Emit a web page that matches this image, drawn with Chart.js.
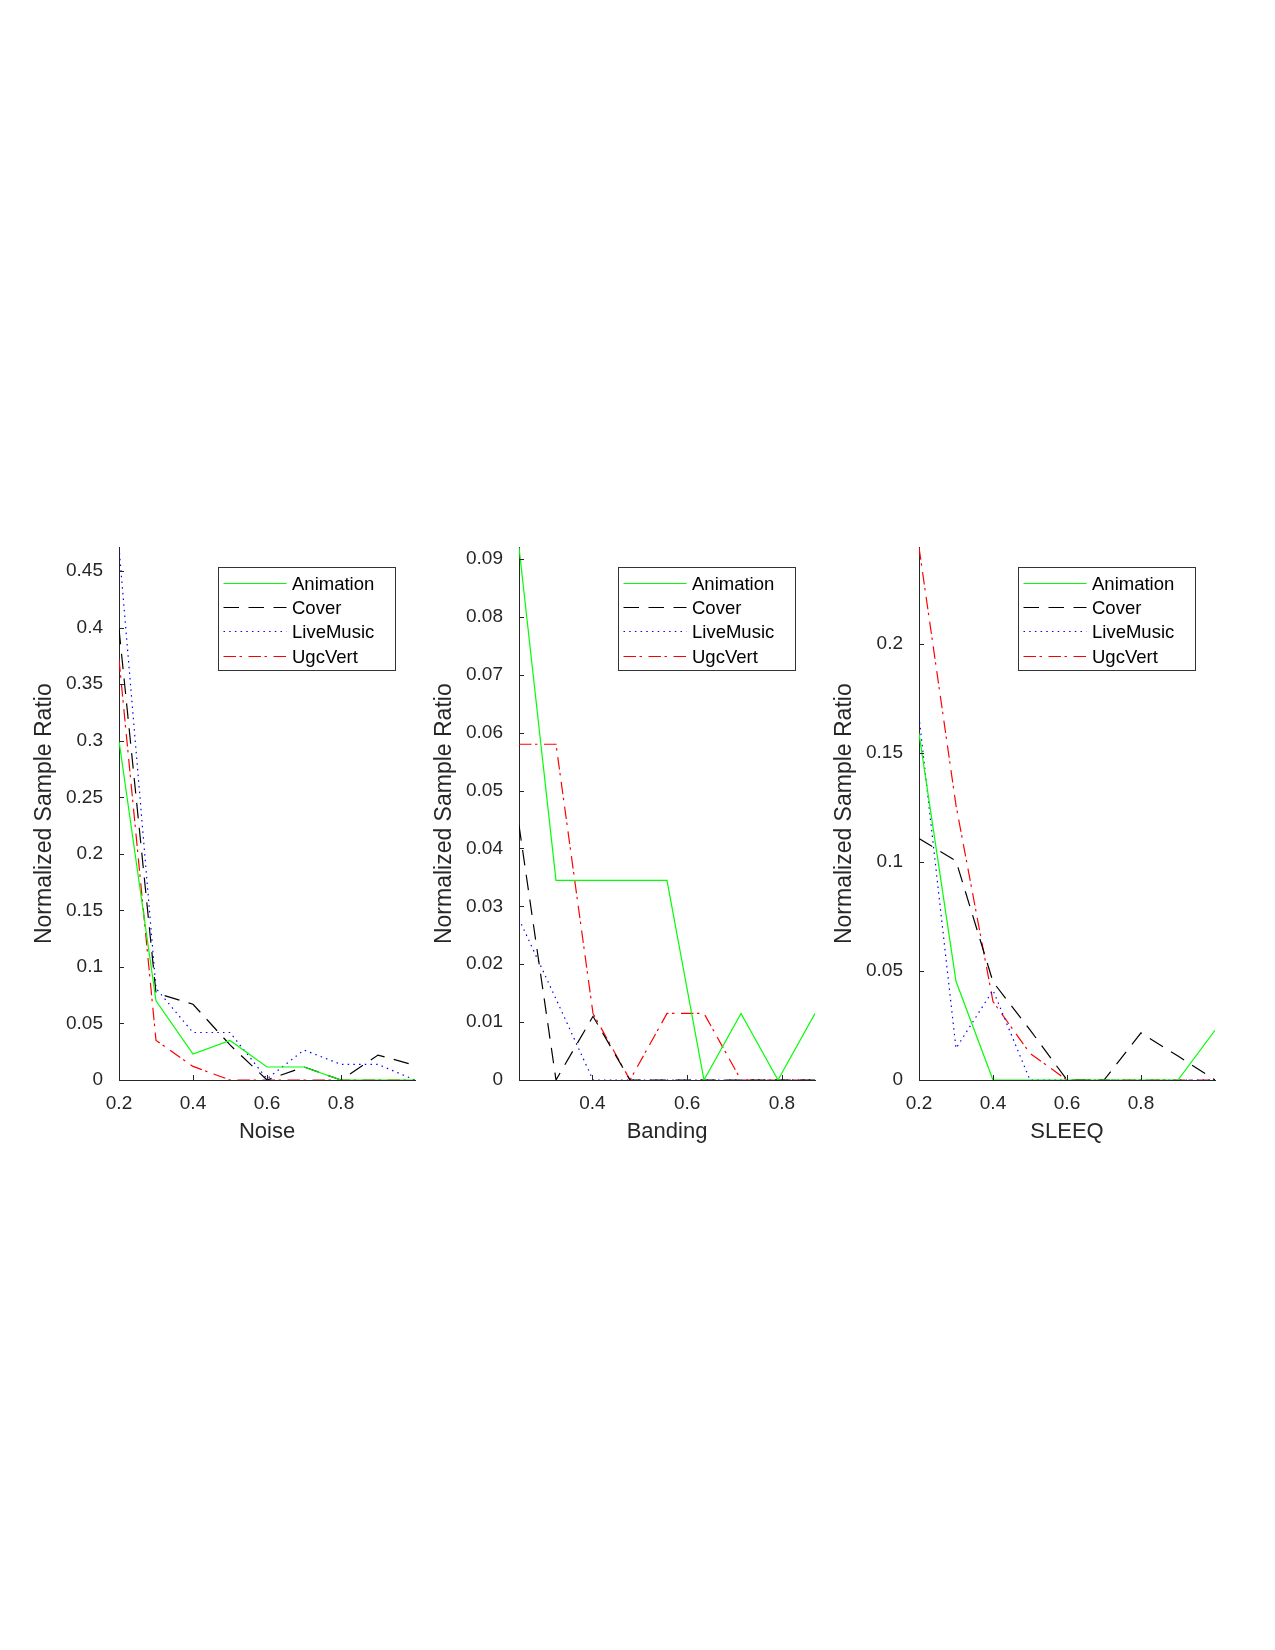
<!DOCTYPE html>
<html>
<head>
<meta charset="utf-8">
<script src="https://cdn.jsdelivr.net/npm/chart.js@4/dist/chart.umd.min.js"></script>
<style>
  body { margin: 0; background: #fff; width: 1275px; height: 1650px; position: relative; }
  canvas { position: absolute; top: 520px; }
</style>
</head>
<body>
<canvas id="noiseChart" width="410" height="630" style="left:19px"></canvas>
<canvas id="bandingChart" width="410" height="630" style="left:419px"></canvas>
<canvas id="sleeqChart" width="410" height="630" style="left:819px"></canvas>
<script>
const seriesNames = ['Animation', 'Cover', 'LiveMusic', 'UgcVert'];

const noiseX = [0.2, 0.3, 0.4, 0.5, 0.6, 0.7, 0.8, 0.9, 1.0];
const noiseAnimation = [0.300, 0.070, 0.023, 0.035, 0.0115, 0.0115, 0, 0, 0];
const noiseCover = [0.399, 0.077, 0.067, 0.031, 0, 0.0115, 0, 0.022, 0.013];
const noiseLiveMusic = [0.471, 0.081, 0.042, 0.042, 0.001, 0.0265, 0.0138, 0.0138, 0];
const noiseUgcVert = [0.372, 0.035, 0.012, 0, 0, 0, 0, 0, 0];
const noiseXTicks = [0.2, 0.4, 0.6, 0.8];
const noiseYTicks = [0, 0.05, 0.1, 0.15, 0.2, 0.25, 0.3, 0.35, 0.4, 0.45];

const bandingX = [0.2451, 0.3232, 0.4013, 0.4794, 0.5575, 0.6356, 0.7137, 0.7918, 0.8699];
const bandingAnimation = [0.092, 0.0345, 0.0345, 0.0345, 0.0345, 0, 0.0115, 0, 0.0115];
const bandingCover = [0.044, 0, 0.011, 0, 0, 0, 0, 0, 0];
const bandingLiveMusic = [0.0278, 0.014, 0, 0, 0, 0, 0, 0, 0];
const bandingUgcVert = [0.058, 0.058, 0.0115, 0, 0.0115, 0.0115, 0, 0, 0];
const bandingXTicks = [0.4, 0.6, 0.8];
const bandingYTicks = [0, 0.01, 0.02, 0.03, 0.04, 0.05, 0.06, 0.07, 0.08, 0.09];

const sleeqX = [0.2, 0.3, 0.4, 0.5, 0.6, 0.7, 0.8, 0.9, 1.0];
const sleeqAnimation = [0.159, 0.0453, 0, 0, 0, 0, 0, 0, 0.0228];
const sleeqCover = [0.1108, 0.1005, 0.045, 0.023, 0, 0, 0.0216, 0.011, 0];
const sleeqLiveMusic = [0.1667, 0.0145, 0.0412, 0, 0, 0, 0, 0, 0];
const sleeqUgcVert = [0.2443, 0.126, 0.036, 0.0122, 0, 0, 0, 0, 0];
const sleeqXTicks = [0.2, 0.4, 0.6, 0.8];
const sleeqYTicks = [0, 0.05, 0.1, 0.15, 0.2];

const seriesStyles = [
    { color: '#00ff00', dash: [] },
    { color: '#000000', dash: [15.5, 9.5] },
    { color: '#0000ff', dash: [1.5, 4.2] },
    { color: '#ff0000', dash: [12.5, 3.5, 2.5, 6.5] }
];

const FONT = "'Liberation Sans', Arial, Helvetica, sans-serif";
const AXIS_COLOR = '#262626';

// small tick marks drawn inside the axes, matlab style
const innerTicks = {
    id: 'innerTicks',
    afterDraw(chart) {
        const ctx = chart.ctx;
        const { x, y } = chart.scales;
        const len = 5;
        ctx.save();
        ctx.strokeStyle = AXIS_COLOR;
        ctx.lineWidth = 1;
        ctx.beginPath();
        x.ticks.forEach(t => {
            const px = Math.round(x.getPixelForValue(t.value)) + 0.5;
            ctx.moveTo(px, y.bottom);
            ctx.lineTo(px, y.bottom - len);
        });
        y.ticks.forEach(t => {
            const py = Math.round(y.getPixelForValue(t.value)) + 0.5;
            ctx.moveTo(x.left, py);
            ctx.lineTo(x.left + len, py);
        });
        ctx.stroke();
        ctx.restore();
    }
};

// boxed legend in the upper right of the plot area
const boxLegend = {
    id: 'boxLegend',
    afterDraw(chart) {
        const ctx = chart.ctx;
        const area = chart.chartArea;
        const w = 177, h = 103;
        const x0 = area.right - 20.5 - w;
        const y0 = area.top + 20;
        ctx.save();
        ctx.fillStyle = '#fff';
        ctx.fillRect(x0, y0, w, h);
        ctx.strokeStyle = '#333';
        ctx.lineWidth = 1;
        ctx.strokeRect(Math.round(x0) + 0.5, Math.round(y0) + 0.5, w, h);
        ctx.font = '18.5px ' + FONT;
        ctx.textBaseline = 'middle';
        chart.data.datasets.forEach((ds, i) => {
            const cy = Math.round(y0 + 15.3 + i * 24.3) + 0.5;
            ctx.strokeStyle = ds.borderColor;
            ctx.lineWidth = ds.borderWidth;
            ctx.setLineDash(ds.borderDash);
            ctx.beginPath();
            ctx.moveTo(x0 + 6, cy);
            ctx.lineTo(x0 + 69, cy);
            ctx.stroke();
            ctx.setLineDash([]);
            ctx.fillStyle = '#000';
            ctx.fillText(ds.label, x0 + 74.5, cy + 1);
        });
        ctx.restore();
    }
};

function fmt(v) {
    return String(parseFloat(Number(v).toFixed(4)));
}

function createPanel(canvasId, xTitle, xs, seriesValues, xTicks, yTicks, xMin, xMax, yMax) {
    const ctx = document.getElementById(canvasId).getContext('2d');
    const datasets = seriesValues.map((vals, i) => ({
        label: seriesNames[i],
        data: vals.map((v, j) => ({ x: xs[j], y: v })),
        borderColor: seriesStyles[i].color,
        borderDash: seriesStyles[i].dash,
        borderWidth: 1.2,
        pointRadius: 0,
        tension: 0,
        fill: false
    }));

    return new Chart(ctx, {
        type: 'line',
        data: { datasets: datasets },
        options: {
            responsive: false,
            animation: false,
            layout: { padding: { top: 26, right: 14, bottom: 0, left: 0 } },
            plugins: { legend: { display: false }, tooltip: { enabled: false } },
            scales: {
                x: {
                    type: 'linear',
                    min: xMin,
                    max: xMax,
                    afterBuildTicks: axis => { axis.ticks = xTicks.map(v => ({ value: v })); },
                    afterFit: axis => { axis.height = 70; },
                    grid: { display: true, drawOnChartArea: false, drawTicks: false },
                    border: { display: true, color: AXIS_COLOR, width: 1 },
                    ticks: {
                        color: AXIS_COLOR, padding: 12, maxRotation: 0, autoSkip: false,
                        font: { family: FONT, size: 19 },
                        callback: v => fmt(v)
                    },
                    title: {
                        display: true, text: xTitle, color: AXIS_COLOR,
                        font: { family: FONT, size: 22 },
                        padding: { top: 0, bottom: 5 }
                    }
                },
                y: {
                    type: 'linear',
                    min: 0,
                    max: yMax,
                    afterBuildTicks: axis => { axis.ticks = yTicks.map(v => ({ value: v })); },
                    afterFit: axis => { axis.width = 100; },
                    grid: { display: true, drawOnChartArea: false, drawTicks: false },
                    border: { display: true, color: AXIS_COLOR, width: 1 },
                    ticks: {
                        color: AXIS_COLOR, padding: 16, autoSkip: false,
                        font: { family: FONT, size: 19 },
                        callback: v => fmt(v)
                    },
                    title: {
                        display: true, text: 'Normalized Sample Ratio', color: AXIS_COLOR,
                        font: { family: FONT, size: 23 },
                        padding: { top: 12, bottom: 0 }
                    }
                }
            }
        },
        plugins: [innerTicks, boxLegend]
    });
}

createPanel('noiseChart', 'Noise', noiseX,
    [noiseAnimation, noiseCover, noiseLiveMusic, noiseUgcVert],
    noiseXTicks, noiseYTicks, 0.2, 1.0, 0.471);
createPanel('bandingChart', 'Banding', bandingX,
    [bandingAnimation, bandingCover, bandingLiveMusic, bandingUgcVert],
    bandingXTicks, bandingYTicks, 0.2451, 0.8699, 0.092);
createPanel('sleeqChart', 'SLEEQ', sleeqX,
    [sleeqAnimation, sleeqCover, sleeqLiveMusic, sleeqUgcVert],
    sleeqXTicks, sleeqYTicks, 0.2, 1.0, 0.2443);
</script>
</body>
</html>
